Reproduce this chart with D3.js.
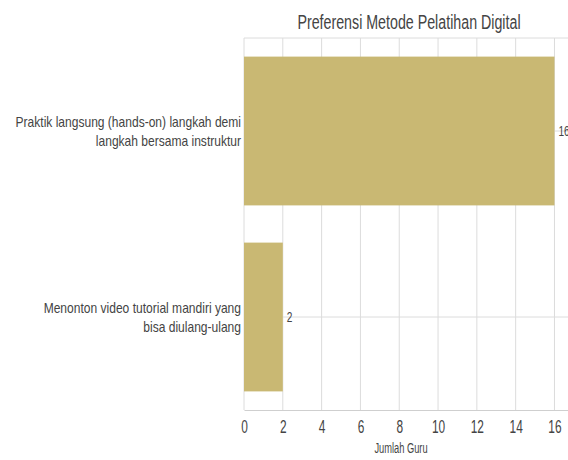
<!DOCTYPE html>
<html>
<head>
<meta charset="utf-8">
<script src="https://cdn.jsdelivr.net/npm/d3@7"></script>
<style>
  body { margin: 0; background: #fff; }
  svg { font-family: "Liberation Sans", Arial, sans-serif; }
</style>
</head>
<body>
<div id="chart"></div>
<script>
// data
var categories = [
    ["Praktik langsung (hands-on) langkah demi", "langkah bersama instruktur"],
    ["Menonton video tutorial mandiri yang", "bisa diulang-ulang"]
];
var values = [16, 2];
var xTicks = [0, 2, 4, 6, 8, 10, 12, 14, 16];

var svgWidth = 568;
var svgHeight = 460;
var margin = {top: 38, right: -2, bottom: 50, left: 244};
var width = svgWidth - margin.left - margin.right;
var height = svgHeight - margin.top - margin.bottom;

// the reference uses a narrow face, so squeeze text horizontally
function squeeze(sel, f) {
    sel.each(function() {
        var nodes = this.querySelectorAll("tspan");
        if (!nodes.length) nodes = [this];
        nodes.forEach(function(n) {
            var w = n.getComputedTextLength();
            n.setAttribute("textLength", w * f);
            n.setAttribute("lengthAdjust", "spacingAndGlyphs");
        });
    });
}

var svg = d3.select("#chart")
    .append("svg")
    .attr("width", svgWidth)
    .attr("height", svgHeight);

var chartGroup = svg.append("g")
    .attr("transform", `translate(${margin.left}, ${margin.top})`);

// scales
var xScale = d3.scaleLinear()
    .domain([0, 16.8])
    .range([0, width]);

var yScale = d3.scaleBand()
    .domain(d3.range(values.length))
    .range([0, height])
    .paddingInner(0.2)
    .paddingOuter(0.1);

// gridlines
chartGroup.append("g")
    .selectAll("line")
    .data(xTicks)
    .enter()
    .append("line")
    .attr("x1", d => xScale(d))
    .attr("x2", d => xScale(d))
    .attr("y1", 0)
    .attr("y2", height)
    .attr("stroke", "#dcdcdc")
    .attr("stroke-width", 1);

chartGroup.append("line")
    .attr("x1", 0).attr("x2", width)
    .attr("y1", 0).attr("y2", 0)
    .attr("stroke", "#dcdcdc");

chartGroup.append("line")
    .attr("x1", width - 1.5).attr("x2", width - 1.5)
    .attr("y1", 0).attr("y2", height)
    .attr("stroke", "#dcdcdc");

chartGroup.append("g")
    .selectAll("line")
    .data(values)
    .enter()
    .append("line")
    .attr("x1", 0)
    .attr("x2", width)
    .attr("y1", (d, i) => yScale(i) + yScale.bandwidth() / 2)
    .attr("y2", (d, i) => yScale(i) + yScale.bandwidth() / 2)
    .attr("stroke", "#dcdcdc");

// bars
chartGroup.append("g")
    .selectAll("rect")
    .data(values)
    .enter()
    .append("rect")
    .attr("x", 0)
    .attr("y", (d, i) => yScale(i))
    .attr("width", d => xScale(d))
    .attr("height", yScale.bandwidth())
    .attr("fill", "#c9b873");

// value labels
var valueLabels = chartGroup.append("g")
    .selectAll("text")
    .data(values)
    .enter()
    .append("text")
    .text(d => d)
    .attr("x", d => xScale(d) + 4)
    .attr("y", (d, i) => yScale(i) + yScale.bandwidth() / 2)
    .attr("dy", "0.35em")
    .attr("font-size", 14.5)
    .attr("fill", "#444");
squeeze(valueLabels, 0.7);

// x axis
var bottomAxis = d3.axisBottom(xScale).tickValues(xTicks).tickSize(0).tickPadding(10);
var xAxis = chartGroup.append("g")
    .attr("transform", `translate(0, ${height})`)
    .call(bottomAxis);
xAxis.select(".domain").attr("stroke", "#cfcfcf");
xAxis.selectAll("text")
    .attr("font-size", 18)
    .attr("font-family", "Liberation Sans, Arial, sans-serif")
    .attr("fill", "#444");
squeeze(xAxis.selectAll("text"), 0.66);

// category labels
var catLabels = chartGroup.append("g")
    .selectAll("text")
    .data(categories)
    .enter()
    .append("text")
    .attr("text-anchor", "end")
    .attr("font-size", 14.5)
    .attr("fill", "#444")
    .attr("y", (d, i) => yScale(i) + yScale.bandwidth() / 2);

catLabels.selectAll("tspan")
    .data(d => d)
    .enter()
    .append("tspan")
    .attr("x", -3)
    .attr("dy", (d, j) => j === 0 ? -4 : 18.5)
    .text(d => d);
squeeze(catLabels, 0.83);

// title
var title = svg.append("text")
    .attr("x", 409)
    .attr("y", 29)
    .attr("text-anchor", "middle")
    .attr("font-size", 19.5)
    .attr("fill", "#444")
    .text("Preferensi Metode Pelatihan Digital");
squeeze(title, 0.73);

// x label
var xLabel = svg.append("text")
    .attr("x", 401)
    .attr("y", 453)
    .attr("text-anchor", "middle")
    .attr("font-size", 15.5)
    .attr("fill", "#444")
    .text("Jumlah Guru");
squeeze(xLabel, 0.6);
</script>
</body>
</html>
